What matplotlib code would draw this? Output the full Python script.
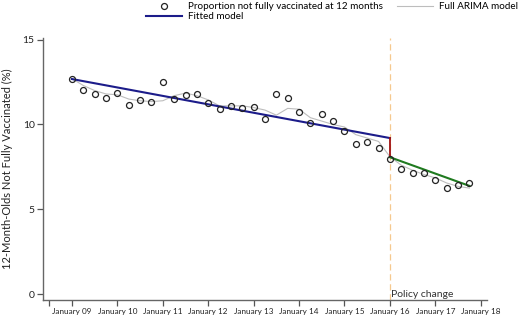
import numpy as np
import matplotlib
matplotlib.use("Agg")
import matplotlib.pyplot as plt
from matplotlib.lines import Line2D

plt.rcParams['font.family'] = ['Lato', 'DejaVu Sans']

# quarterly observations, Jan 2009 .. Oct 2017 (quarter index 0..35)
observed = [12.70, 12.03, 11.80, 11.56, 11.85, 11.16, 11.46, 11.32, 12.52, 11.49,
            11.75, 11.81, 11.26, 10.91, 11.10, 10.97, 11.05, 10.34, 11.81, 11.55,
            10.73, 10.06, 10.63, 10.22, 9.59, 8.82, 8.94, 8.62, 7.94, 7.40,
            7.16, 7.16, 6.73, 6.28, 6.44, 6.57]
arima = [12.70, 12.30, 12.00, 11.80, 11.75, 11.50, 11.40, 11.35, 11.40, 11.70,
         11.85, 11.70, 11.45, 11.10, 11.10, 11.10, 11.00, 10.85, 10.55, 10.95,
         10.90, 10.40, 10.20, 10.00, 9.85, 9.40, 9.20, 9.00, 8.10, 7.60,
         7.30, 7.05, 6.85, 6.55, 6.35, 6.25]
fit_pre_x = [0, 28]
fit_pre_y = [12.68, 9.20]
fit_post_x = [28, 35]
fit_post_y = [8.07, 6.38]
policy_q = 28
tick_q = [-2, 0, 4, 8, 12, 16, 20, 24, 28, 32, 36]
tick_labels = ['', 'January 09', 'January 10', 'January 11', 'January 12', 'January 13',
               'January 14', 'January 15', 'January 16', 'January 17', 'January 18']

q = np.arange(len(observed))

fig = plt.figure(figsize=(5.2, 3.2), dpi=100)
ax = fig.add_axes([43/520, 20/320, (487-43)/520, (300-38)/320])

ax.axvline(policy_q, color='#f5c88e', lw=0.9, ls=(0, (5, 3)), zorder=1)
ax.plot(q, arima, color='#bdbdbd', lw=0.8, zorder=2)
ax.plot(fit_pre_x, fit_pre_y, color='#1c1c8a', lw=1.5, zorder=3)
ax.plot([policy_q, policy_q], [fit_pre_y[-1], fit_post_y[0]], color='#a01010', lw=1.3, zorder=3)
ax.plot(fit_post_x, fit_post_y, color='#1f7a1f', lw=1.5, zorder=3)
ax.plot(q, observed, ls='none', marker='o', ms=4.3, mfc='none', mec='#222222', mew=0.9, zorder=4)

ax.text(policy_q + 0.1, 0.0, 'Policy change', fontsize=7.5, color='#333333', va='center', ha='left')

ax.set_xlim(-2.55, 36.55)
ax.set_ylim(-0.35, 15.1)
ax.set_xticks(tick_q)
ax.set_xticklabels(tick_labels, fontsize=5.9, color='#222222')
ax.set_yticks([0, 5, 10, 15])
ax.set_yticklabels(['0', '5', '10', '15'], fontsize=7.5, color='#222222')
ax.set_ylabel('12-Month-Olds Not Fully Vaccinated (%)', fontsize=8, color='#222222', labelpad=7)
ax.tick_params(axis='both', length=4, width=0.9, color='#555555', pad=2)
for s in ['top', 'right']:
    ax.spines[s].set_visible(False)
for s in ['left', 'bottom']:
    ax.spines[s].set_color('#666666')
    ax.spines[s].set_linewidth(1.0)

h_obs = Line2D([], [], ls='none', marker='o', ms=4.3, mfc='none', mec='#222222', mew=0.9)
h_fit = Line2D([], [], color='#1c1c8a', lw=1.5)
h_arima = Line2D([], [], color='#bdbdbd', lw=0.8)
leg_kw = dict(frameon=False, fontsize=7.1, numpoints=1, handlelength=3.7, handletextpad=0.6,
              labelspacing=0.1, borderpad=0.0, borderaxespad=0)
fig.legend([h_obs, h_fit], ['Proportion not fully vaccinated at 12 months', 'Fitted model'],
           loc='upper left', bbox_to_anchor=(146/520, 0.993), **leg_kw)
fig.legend([h_arima], ['Full ARIMA model'],
           loc='upper left', bbox_to_anchor=(397/520, 0.993), **leg_kw)

fig.savefig('out.png', dpi=100)
